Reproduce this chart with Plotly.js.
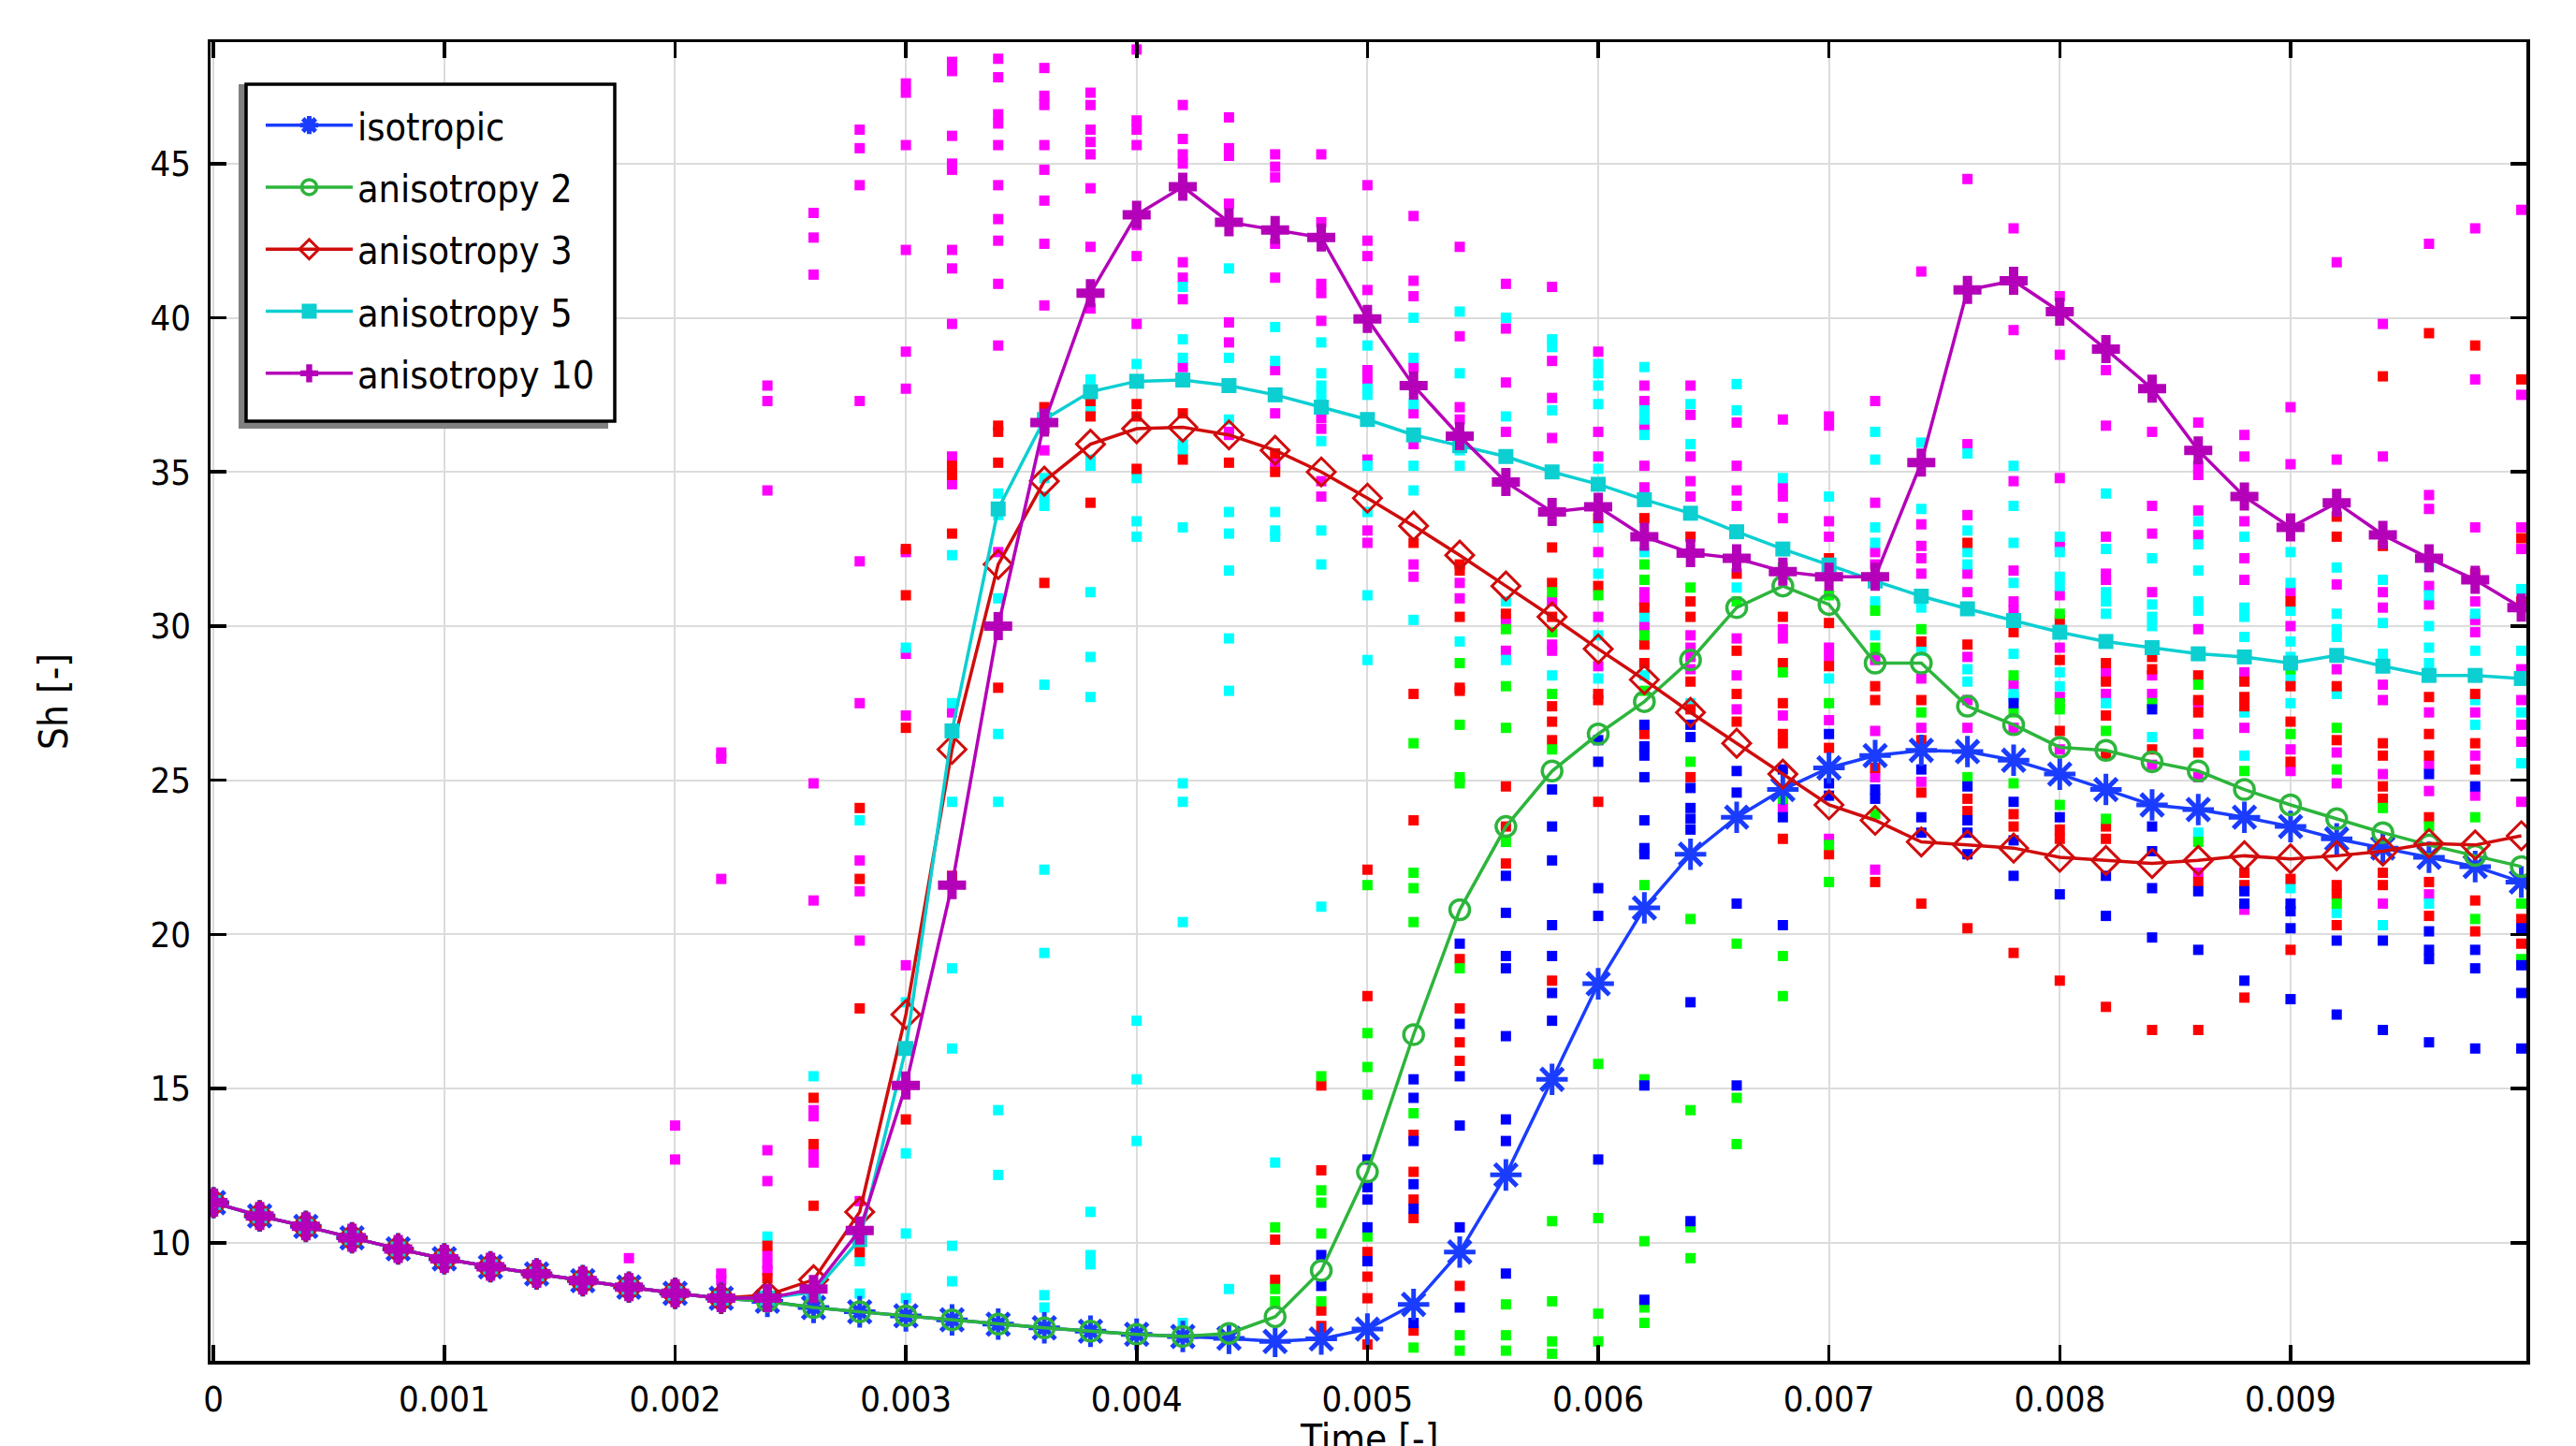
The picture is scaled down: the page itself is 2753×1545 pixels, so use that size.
<!DOCTYPE html>
<html>
<head>
<meta charset="utf-8">
<script src="https://cdn.plot.ly/plotly-3.0.1.min.js"></script>
<style>html,body{margin:0;padding:0;background:#fff}#chart{width:2753px;height:1545px}</style>
</head>
<body>
<div id="chart"></div>
<script>
// ---------- data ----------
const time = [0,0.0002,0.0004,0.0006,0.0008,0.001,0.0012,0.0014,0.0016,0.0018,
  0.002,0.0022,0.0024,0.0026,0.0028,0.003,0.0032,0.0034,0.0036,0.0038,
  0.004,0.0042,0.0044,0.0046,0.0048,0.005,0.0052,0.0054,0.0056,0.0058,
  0.006,0.0062,0.0064,0.0066,0.0068,0.007,0.0072,0.0074,0.0076,0.0078,
  0.008,0.0082,0.0084,0.0086,0.0088,0.009,0.0092,0.0094,0.0096,0.0098,0.01];

const isotropic = [11.3,10.87,10.53,10.16,9.8,9.48,9.22,8.99,8.77,8.56,
  8.36,8.2,8.1,7.9,7.76,7.63,7.5,7.36,7.24,7.13,
  7.03,6.96,6.9,6.8,6.88,7.2,8.0,9.7,12.2,15.3,
  18.4,20.86,22.6,23.8,24.7,25.4,25.8,25.97,25.93,25.65,
  25.2,24.7,24.2,24.05,23.8,23.5,23.1,22.8,22.5,22.2,21.7];
const aniso2 = [11.3,10.87,10.53,10.16,9.8,9.48,9.22,8.99,8.77,8.56,
  8.36,8.2,8.1,7.9,7.76,7.63,7.5,7.36,7.24,7.13,
  7.03,6.96,7.06,7.6,9.1,12.3,16.75,20.8,23.5,25.3,
  26.5,27.55,28.9,30.6,31.3,30.7,28.8,28.8,27.4,26.8,
  26.07,25.97,25.6,25.3,24.7,24.2,23.75,23.3,22.9,22.56,22.2];
const aniso3 = [11.3,10.87,10.53,10.16,9.8,9.48,9.22,8.99,8.77,8.56,
  8.36,8.2,8.3,8.8,11.0,17.4,26.0,32.0,34.7,35.9,
  36.4,36.45,36.2,35.7,35.0,34.15,33.25,32.3,31.3,30.3,
  29.26,28.26,27.2,26.2,25.2,24.2,23.7,23.0,22.9,22.8,
  22.5,22.4,22.3,22.4,22.55,22.45,22.55,22.7,22.95,22.9,23.2];
const aniso5 = [11.3,10.87,10.53,10.16,9.8,9.48,9.22,8.99,8.77,8.56,
  8.36,8.2,8.2,8.4,10.1,16.3,26.6,33.8,36.7,37.6,
  37.94,37.98,37.8,37.5,37.1,36.7,36.2,35.85,35.5,35.0,
  34.6,34.1,33.66,33.06,32.5,31.98,31.46,30.97,30.56,30.18,
  29.8,29.5,29.3,29.1,29.0,28.8,29.05,28.7,28.4,28.4,28.3];
const aniso10 = [11.3,10.87,10.53,10.16,9.8,9.48,9.22,8.99,8.77,8.56,
  8.36,8.2,8.2,8.5,10.4,15.1,21.6,30.0,36.6,40.8,
  43.34,44.25,43.1,42.85,42.6,39.96,37.8,36.16,34.67,33.7,
  33.87,32.9,32.37,32.2,31.77,31.6,31.6,35.3,40.9,41.2,
  40.2,38.98,37.7,35.7,34.2,33.2,34.0,32.96,32.2,31.5,30.6];

// individual sample points (time, list of Sh values)
const dotsMagenta = [
 [0.0018,[9.5]],[0.002,[13.8,12.7]],[0.0022,[25.9,25.7,21.8,9.0,8.8]],
 [0.0024,[37.8,37.3,34.4,13.0,12.0,9.6,9.3,9.1]],
 [0.0026,[43.4,42.6,41.4,24.9,21.1,14.3,14.1,12.9,12.6]],
 [0.0028,[46.1,45.5,44.3,37.3,32.1,27.5,22.4,21.4,19.8,11.35]],
 [0.003,[47.6,47.3,45.6,42.2,38.9,37.7,32.4,29.1,27.1,19.0]],
 [0.0032,[48.3,48.0,45.9,45.0,44.8,42.2,41.6,39.8,35.5,34.6,27.2]],
 [0.0034,[48.4,47.8,46.6,46.3,45.6,44.3,43.2,42.5,41.1,39.1,32.4]],
 [0.0036,[48.1,47.2,46.9,45.6,44.8,43.8,42.4,40.4,35.7]],
 [0.0038,[47.3,46.9,46.1,45.7,45.3,44.2,42.3,40.3]],
 [0.004,[48.7,46.4,46.1,45.6,43.0,42.0,39.8]],
 [0.0042,[46.9,45.8,45.3,45.0,41.8,41.3,40.6,38.4]],
 [0.0044,[46.5,45.5,45.25,43.7,39.85,39.2,36.3,36.2]],
 [0.0046,[45.3,44.9,44.55,42.4,41.3,38.3,36.9,35.3]],
 [0.0048,[45.3,43.1,41.1,40.8,39.9,36.75,36.4,34.7,34.2]],
 [0.005,[44.3,42.5,42.0,40.9,38.3,38.0,35.4,33.1,32.7]],
 [0.0052,[43.3,41.2,40.7,38.4,36.9,35.9,32.0,31.6]],
 [0.0054,[42.3,39.4,37.1,36.7,31.4,30.9]],
 [0.0056,[41.1,39.65,37.9,36.3,30.2,29.2]],
 [0.0058,[41.0,38.6,37.4,36.1,30.8,29.4,29.2]],
 [0.006,[38.9,36.3,35.5,32.4,30.3,28.7]],
 [0.0062,[37.8,37.3,36.5,35.2,34.5,31.1,30.8,30.0]],
 [0.0064,[37.8,36.85,35.5,34.7,34.2,29.7,29.3,29.0,28.6]],
 [0.0066,[36.6,35.2,34.4,33.9,29.6,28.4,27.3]],
 [0.0068,[36.7,34.5,34.2,33.5,29.9,29.6,27.1,24.1]],
 [0.007,[36.8,36.5,33.4,32.9,29.3,29.0,26.95,23.1]],
 [0.0072,[37.3,34.0,32.4,32.0,28.9,26.6,25.1,22.1]],
 [0.0074,[41.5,33.3,32.6,32.2,31.7,28.3,26.7,24.95]],
 [0.0076,[44.5,35.9,33.6,31.7,31.1,29.0,27.6,26.7]],
 [0.0078,[42.9,39.6,34.7,31.8,30.8,30.5,28.1,26.7]],
 [0.008,[40.7,38.8,34.8,32.6,31.0,29.3,27.7,26.0]],
 [0.0082,[38.3,36.5,32.9,31.7,31.5,28.5,27.8]],
 [0.0084,[36.3,33.9,33.0,31.1,28.4,27.8,25.5]],
 [0.0086,[36.6,35.2,34.9,33.75,32.95,29.9,27.5,26.5,25.1,22.0]],
 [0.0088,[36.2,35.5,33.4,32.2,31.5,28.5,26.7,20.8]],
 [0.009,[37.1,35.25,31.1,30.0,26.0,25.3]],
 [0.0092,[41.8,35.4,31.35,28.6,25.9,24.9]],
 [0.0094,[39.8,35.5,31.1,30.6,28.1,27.6,25.2,21.0]],
 [0.0096,[42.4,34.25,33.8,31.3,30.7,27.2,25.5,24.65,21.3]],
 [0.0098,[42.9,38.0,33.2,30.8,30.2,29.8,27.2,25.8,24.5]],
 [0.01,[43.5,37.5,33.2,32.5,28.6,27.6,26.8,26.25,24.3]]
];
const dotsCyan = [
 [0.0024,[10.2]],[0.0026,[15.4]],[0.0028,[23.7,9.4,8.35]],
 [0.003,[29.3,17.8,12.9,10.3,8.2]],
 [0.0032,[32.3,27.5,24.3,18.9,16.3,9.9,8.75]],
 [0.0034,[34.3,33.6,30.9,26.5,24.3,14.3,12.2]],
 [0.0036,[34.8,34.2,33.9,28.1,22.1,19.4,8.3,7.9]],
 [0.0038,[38.0,37.0,35.4,35.2,31.1,29.0,27.7,11.0,9.6,9.3]],
 [0.004,[38.5,34.8,33.4,32.9,17.2,15.3,13.3]],
 [0.0042,[41.0,39.3,38.7,35.9,35.7,33.2,24.9,24.3,20.4,7.4]],
 [0.0044,[41.6,38.7,36.7,33.7,33.0,31.8,29.6,27.9,8.5]],
 [0.0046,[39.7,38.6,33.7,33.1,32.9,12.6]],
 [0.0048,[39.2,38.2,37.8,37.5,36.0,33.1,32.0,20.9]],
 [0.005,[39.1,37.7,37.5,35.2,33.7,31.0,28.9]],
 [0.0052,[40.0,38.7,37.2,35.2,34.4,30.2]],
 [0.0054,[40.2,38.2,35.7,35.2,29.5]],
 [0.0056,[40.0,36.8,30.8,28.9]],
 [0.0058,[39.3,39.05,37.0,28.4]],
 [0.006,[38.5,38.2,37.8,37.2,35.1,33.2,31.7,29.7,28.3]],
 [0.0062,[38.4,37.0,36.7,36.2,32.4,30.3,28.4]],
 [0.0064,[37.2,35.9,27.5]],[0.0066,[37.85,37.0,31.25]],[0.0068,[34.8]],
 [0.007,[34.2,28.3]],[0.0072,[36.3,35.4,33.2,32.7,30.8,29.7]],
 [0.0074,[35.95,33.8,30.6,29.2]],[0.0076,[35.6,33.1,32.4,32.0,28.6,28.2]],
 [0.0078,[35.2,33.9,32.7,31.4,29.1,27.8,27.7]],
 [0.008,[32.9,32.4,31.6,31.3,28.5,28.05]],
 [0.0082,[34.3,32.5,31.1,30.8,30.4,27.5]],
 [0.0084,[32.2,30.7,30.3,30.0,26.4]],
 [0.0086,[33.4,32.65,31.8,30.8,30.5,23.3]],
 [0.0088,[32.9,30.6,30.3,29.65,27.2,25.8]],
 [0.009,[32.4,31.4,30.5,29.5,29.0,28.3,27.5,21.5]],
 [0.0092,[31.9,30.4,29.9,29.65,27.8,20.7]],
 [0.0094,[31.5,30.1,29.1,20.3]],
 [0.0096,[31.95,31.0,30.0,29.3,28.8,21.0]],
 [0.0098,[30.4,29.2,27.6,26.8]],
 [0.01,[31.2,29.2,27.2,25.55]]
];
const dotsRed = [
 [0.0024,[9.9,8.85]],[0.0026,[14.7,13.2,11.2]],[0.0028,[24.1,21.8,17.6,9.7]],
 [0.003,[32.5,31.0,26.7,14.0]],[0.0032,[35.2,34.9,33.0,21.9]],
 [0.0034,[36.5,36.3,35.3,28.0]],[0.0036,[37.1,36.4,31.4]],
 [0.0038,[37.3,36.8,34.0]],[0.004,[37.2,36.8,35.1]],[0.0042,[36.9,35.4]],
 [0.0044,[35.3]],[0.0046,[35.6,35.0,10.1,8.8]],
 [0.0048,[15.1,12.35,7.8,7.3,7.0]],[0.005,[22.1,18.0,9.7,8.9,8.2,6.7]],
 [0.0052,[32.7,27.8,23.7,13.5,12.3,11.4,10.8,7.15]],
 [0.0054,[32.0,31.8,30.3,28.0,27.9,19.2,17.6,16.5,15.9,8.6]],
 [0.0056,[30.4,24.8,23.5,22.3]],
 [0.0058,[32.55,31.4,30.3,27.4,26.9,26.3,18.5]],
 [0.006,[33.5,31.3,27.8,27.6,24.3]],
 [0.0062,[33.5,30.6,29.4,28.8,26.5]],
 [0.0064,[32.9,30.8,30.3,28.2,27.3,25.1]],
 [0.0066,[31.7,29.2,27.8,26.9]],
 [0.0068,[30.3,28.8,27.5,26.5,26.2,23.1]],
 [0.007,[32.2,30.1,28.7,26.05,22.6]],
 [0.0072,[28.05,27.6,25.4,21.7]],
 [0.0074,[29.5,27.6,26.3,24.6,21.0]],
 [0.0076,[32.7,29.4,24.4,24.0,20.2]],
 [0.0078,[29.8,23.9,23.5,19.4]],
 [0.008,[30.2,28.9,26.6,23.4,23.1,18.5]],
 [0.0082,[28.8,28.2,27.1,25.8,23.5,23.1,17.65]],
 [0.0084,[29.0,28.6,26.0,16.9]],
 [0.0086,[28.4,27.6,27.2,25.9,21.7,16.9]],
 [0.0088,[28.2,27.7,27.4,22.0,21.6,17.95]],
 [0.009,[30.8,28.05,26.9,25.6,21.8,19.5]],
 [0.0092,[33.55,32.9,28.05,26.3,21.6,21.3,20.3]],
 [0.0094,[38.1,32.6,26.2,25.8,24.8,24.4,22.0,21.6]],
 [0.0096,[39.5,27.7,26.5,25.8,23.8,21.7,20.6]],
 [0.0098,[39.1,31.7,27.8,26.2,25.35,21.1,20.1]],
 [0.01,[38.0,32.85,30.8,20.5,19.7]]
];
const dotsGreen = [
 [0.0046,[10.5,8.5,8.1]],[0.0048,[15.4,11.7,11.3,10.3,8.1]],
 [0.005,[21.6,16.8,15.7,14.8,10.2]],[0.0052,[26.2,22.0,21.5,20.4,14.2,6.6]],
 [0.0054,[28.8,26.8,25.1,24.9,18.9,7.0,6.5]],
 [0.0056,[29.9,28.05,26.7,23.0,8.0,7.0,6.5]],
 [0.0058,[31.1,29.8,27.8,26.0,10.7,8.1,6.8,6.4]],
 [0.006,[31.0,15.8,10.8,7.7,6.8]],
 [0.0062,[32.0,31.5,29.7,27.9,21.6,15.3,10.05,7.9,7.4]],
 [0.0064,[31.25,25.6,20.5,14.3,10.5,9.5]],
 [0.0066,[30.8,19.7,14.7,13.2]],[0.0068,[31.9,28.5,24.4,19.3,18.0]],
 [0.007,[31.0,27.5,22.9,21.7]],[0.0072,[30.5,29.3,23.9]],[0.0074,[29.9,27.2]],
 [0.0076,[25.1]],[0.0078,[28.4,27.2,24.9]],[0.008,[30.4,27.5,27.3,24.2]],
 [0.0082,[26.6,23.75]],[0.0084,[27.5]],[0.0086,[28.1,23.0]],[0.0088,[25.3]],
 [0.009,[28.6,26.5]],[0.0092,[26.7,25.35,21.0]],[0.0094,[24.1]],[0.0096,[23.5]],
 [0.0098,[23.8,20.5]],[0.01,[21.0,19.2]]
];
const dotsBlue = [
 [0.0048,[9.6,8.6]],[0.005,[12.7,11.8,11.4,10.5,9.4]],
 [0.0052,[15.3,14.7,13.3,11.9,11.1,7.4]],[0.0054,[19.7,17.1,15.4,13.8,10.5,7.9]],
 [0.0056,[21.9,20.7,19.3,18.9,16.7,14.0,13.3,9.0]],
 [0.0058,[24.7,23.5,22.4,20.3,19.3,18.1,17.2]],
 [0.006,[26.3,25.6,21.5,20.6,12.7]],
 [0.0062,[26.8,26.1,25.8,25.1,23.7,22.8,22.6,15.1,8.15]],
 [0.0064,[26.8,26.4,24.75,24.1,23.75,23.4,17.8,10.7]],
 [0.0066,[25.3,24.6,21.0,15.1]],[0.0068,[25.35,23.8,20.3]],
 [0.007,[26.5,24.9,24.5]],[0.0072,[24.7,24.4]],[0.0074,[25.35,23.8,23.3]],
 [0.0076,[24.8,23.7,23.3,22.6]],[0.0078,[27.5,24.3,23.05,21.9]],
 [0.008,[23.8,21.3]],[0.0082,[21.9,20.6]],[0.0084,[27.3,23.5,22.7,21.5,19.9]],
 [0.0086,[21.4,19.5]],[0.0088,[21.4,21.0,18.5]],[0.009,[21.0,20.75,20.2,17.9]],
 [0.0092,[19.8,17.4]],[0.0094,[19.8,16.9]],[0.0096,[25.2,20.1,19.5,19.2,16.5]],
 [0.0098,[24.8,19.5,18.9,16.3]],[0.01,[20.2,19.0,18.1,16.3]]
];

const xTicks = [0,0.001,0.002,0.003,0.004,0.005,0.006,0.007,0.008,0.009];
const xTickText = ['0','0.001','0.002','0.003','0.004','0.005','0.006','0.007','0.008','0.009'];
const yTicks = [10,15,20,25,30,35,40,45];
const xTitle = 'Time [-]';
const yTitle = 'Sh [-]';

// ---------- build ----------
function dotTrace(groups, color){
  const x=[], y=[];
  groups.forEach(g=>g[1].forEach(v=>{x.push(g[0]); y.push(v);}));
  return {x, y, type:'scatter', mode:'markers', showlegend:false, hoverinfo:'skip',
    marker:{symbol:'square', size:11, color:color, line:{width:0}}};
}
const FONT = '"DejaVu Sans Condensed", "DejaVu Sans", sans-serif';
const traces = [
  dotTrace(dotsMagenta,'#ff00ff'),
  dotTrace(dotsCyan,'#00ffff'),
  dotTrace(dotsRed,'#ff0000'),
  dotTrace(dotsGreen,'#00ff00'),
  dotTrace(dotsBlue,'#0000ff'),
  {x:time, y:isotropic, name:'isotropic', legendgroup:'a', type:'scatter', mode:'lines+markers',
   line:{color:'#1a3cff', width:3.5},
   marker:{symbol:'asterisk-open', size:28, color:'#1a3cff', line:{color:'#1a3cff', width:5}}},
  {x:time, y:aniso2, name:'anisotropy 2', legendgroup:'b', type:'scatter', mode:'lines+markers',
   line:{color:'#2db53c', width:3.5},
   marker:{symbol:'circle-open', size:21, color:'#2db53c', line:{color:'#2db53c', width:3.5}}},
  {x:time, y:aniso3, name:'anisotropy 3', legendgroup:'c', type:'scatter', mode:'lines+markers',
   line:{color:'#d00c0c', width:3.5},
   marker:{symbol:'diamond-open', size:23, color:'#d00c0c', line:{color:'#d00c0c', width:3}}},
  {x:time, y:aniso5, name:'anisotropy 5', legendgroup:'d', type:'scatter', mode:'lines+markers',
   line:{color:'#0ccfd2', width:3.5},
   marker:{symbol:'square', size:16, color:'#0ccfd2', line:{width:0}}},
  {x:time, y:aniso10, name:'anisotropy 10', legendgroup:'e', type:'scatter', mode:'lines+markers',
   line:{color:'#b400b8', width:3.5},
   marker:{symbol:'cross', size:25, color:'#b400b8', line:{width:0}}}
];

const axisCommon = {
  showline:true, linecolor:'#000', linewidth:3.5, mirror:'ticks',
  ticks:'inside', ticklen:17, tickwidth:3.5, tickcolor:'#000',
  showgrid:true, gridcolor:'#dcdcdc', gridwidth:2, zeroline:false,
  tickfont:{family:FONT, size:38, color:'#000'}
};

const layout = {
  width:2753, height:1545,
  margin:{l:225, r:53, t:45, b:91},
  paper_bgcolor:'#fff', plot_bgcolor:'#fff',
  font:{family:FONT, color:'#000'},
  xaxis:Object.assign({}, axisCommon, {
    range:[-0.000013, 0.010022], tickvals:xTicks, ticktext:xTickText,
    ticklabelstandoff:5
  }),
  yaxis:Object.assign({}, axisCommon, {
    range:[6.17, 48.94], tickvals:yTicks,
    ticklabelstandoff:10,
    title:{text:yTitle, font:{family:FONT, size:42, color:'#000'}, standoff:75}
  }),
  annotations:[{text:xTitle, xref:'paper', yref:'paper', x:0.5, xanchor:'center',
    y:-0.0405, yanchor:'top', showarrow:false,
    font:{family:FONT, size:42, color:'#000'}}],
  legend:{x:0.0218, xanchor:'left', y:0.9606, yanchor:'top',
    bgcolor:'rgba(0,0,0,0)', borderwidth:0,
    font:{family:FONT, size:41, color:'#000'},
    traceorder:'grouped', tracegroupgap:10, itemwidth:93},
  shapes:[
    {type:'rect', xref:'paper', yref:'paper', layer:'above',
     x0:0.01212, x1:0.17172, y0:0.70688, y1:0.96806,
     fillcolor:'#808080', line:{width:0}},
    {type:'rect', xref:'paper', yref:'paper', layer:'above',
     x0:0.01535, x1:0.17455, y0:0.71256, y1:0.96806,
     fillcolor:'#ffffff', line:{color:'#000', width:3.5}}
  ]
};

Plotly.newPlot('chart', traces, layout, {displayModeBar:false, staticPlot:true});
</script>
</body>
</html>
